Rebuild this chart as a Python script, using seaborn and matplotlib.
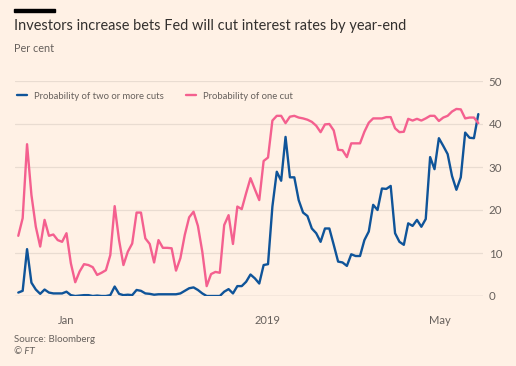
import numpy as np
import pandas as pd
import matplotlib
matplotlib.use("Agg")
import matplotlib.pyplot as plt
import seaborn as sns

# weekday index from 1 Jan 2019, values in per cent
two_or_more = [0.8, 1.2, 10.9, 3.1, 1.5, 0.5, 1.5, 0.8, 0.6, 0.6, 0.6, 1.0, 0.2, 0.0, 0.1, 0.2, 0.2, 0.0, 0.1, 0.0, 0.0, 0.2,
               2.2, 0.5, 0.2, 0.3, 0.2, 1.4, 1.2, 0.6, 0.5, 0.3, 0.4, 0.4, 0.4, 0.4, 0.4, 0.6, 1.2, 1.8, 2.0, 1.4, 0.6,
               0.0, 0.0, 0.0, 0.0, 1.0, 1.6, 0.6, 2.3, 2.3, 3.3, 5.0, 4.1, 2.9, 7.2, 7.4, 20.8, 28.9, 26.8, 37.0, 27.6, 27.6, 22.3,
               19.4, 18.6, 15.7, 14.6, 12.6, 15.7, 15.7, 11.9, 8.0, 7.8, 7.0, 9.7, 9.3, 9.3, 13.0, 15.0, 21.2, 20.0, 25.0, 24.9, 25.6, 14.6,
               12.6, 11.9, 16.9, 16.3, 17.7, 16.1, 17.9, 32.3, 29.5, 36.7, 34.9, 33.0, 27.9, 24.7, 27.6, 38.0, 36.8, 36.7, 42.3]
one_cut = [14.0, 18.1, 35.3, 23.5, 16.1, 11.5, 17.7, 14.0, 14.3, 13.0, 12.6, 14.6, 7.6, 3.2, 5.7, 7.4, 7.2, 6.7, 4.9, 5.4, 6.0, 9.5,
           20.9, 13.0, 7.2, 10.3, 12.2, 19.4, 19.4, 13.4, 12.1, 7.8, 13.0, 11.2, 11.2, 11.1, 5.9, 8.8, 14.2, 18.3, 19.6, 16.3, 10.3,
           2.3, 5.1, 5.6, 5.4, 16.5, 18.8, 12.1, 20.8, 20.2, 23.9, 27.4, 24.8, 22.3, 31.4, 32.2, 40.8, 41.9, 41.9, 40.2, 41.7, 41.9, 41.5,
           41.3, 41.0, 40.5, 39.6, 38.1, 39.9, 40.0, 38.5, 34.0, 33.9, 32.3, 35.5, 35.5, 35.5, 38.2, 40.3, 41.3, 41.3, 41.3, 41.6, 41.6, 39.0,
           38.1, 38.2, 41.2, 40.8, 41.2, 40.8, 41.3, 41.9, 41.9, 40.7, 41.5, 41.9, 42.9, 43.5, 43.4, 41.3, 41.5, 41.5, 40.2]
series_names = ["Probability of two or more cuts", "Probability of one cut"]
month_ticks = [0, 23, 43, 64, 86]        # first weekday of Jan..May
month_labels = ["Jan", "2019", "May"]
month_label_pos = [11, 57, 96.3]
y_ticks = [0, 10, 20, 30, 40, 50]

days = np.arange(len(one_cut))
df = pd.concat([
    pd.DataFrame({"day": days, "value": two_or_more, "series": series_names[0]}),
    pd.DataFrame({"day": days, "value": one_cut, "series": series_names[1]}),
])

bg = "#FFF1E5"
grid_c = "#E9DCD1"
txt_c = "#66605C"

sns.set_theme(style="white")
plt.rcParams["font.family"] = ["Lato", "DejaVu Sans"]

fig = plt.figure(figsize=(5.16, 3.66), dpi=100, facecolor=bg)
ax = fig.add_axes([15/516, 1 - 296/366, 468/516, 215/366])
ax.set_facecolor(bg)

sns.lineplot(data=df, x="day", y="value", hue="series",
             palette=["#0F5499", "#F4608F"], linewidth=1.7, ax=ax)

ax.set_xlim(-0.75, 106.07)
ax.set_ylim(0, 50)
ax.set_yticks(y_ticks)
ax.yaxis.tick_right()
ax.tick_params(axis="y", length=0, pad=4, labelsize=8.3, labelcolor=txt_c)
for v in y_ticks[1:]:
    ax.axhline(v, color=grid_c, lw=0.9, zorder=0)
ax.axhline(0, color="#CEC3BA", lw=1.0, zorder=1)

ax.set_xticks(month_ticks)
ax.set_xticklabels([])
ax.tick_params(axis="x", length=6, width=0.9, color="#CEC3BA", direction="out")
for lab, pos in zip(month_labels, month_label_pos):
    ax.text(pos, -5.6, lab, ha="center", va="center", fontsize=8, color=txt_c)

for s in ax.spines.values():
    s.set_visible(False)
ax.set_xlabel("")
ax.set_ylabel("")

handles, labels = ax.get_legend_handles_labels()
ax.legend(handles, labels, loc="upper left", bbox_to_anchor=(-0.005, 0.972), ncol=2,
          frameon=False, fontsize=6.8, handlelength=1.05, handletextpad=0.75,
          columnspacing=2.3, borderpad=0, labelcolor=txt_c)

fig.patches.append(plt.Rectangle((14/516, 1 - 12/366), 41/516, 3/366,
                                 transform=fig.transFigure, color="#000000"))
fig.text(14/516, 1 - 26/366, "Investors increase bets Fed will cut interest rates by year-end",
         fontsize=10.45, color="#33302E", va="center")
fig.text(14/516, 1 - 48/366, "Per cent", fontsize=7.8, color=txt_c, va="center")
fig.text(14/516, 1 - 339/366, "Source: Bloomberg", fontsize=7, color=txt_c, va="center")
fig.text(14/516, 1 - 352/366, "© FT", fontsize=7, color=txt_c, va="center", style="italic")

fig.savefig("out.png", dpi=100, facecolor=bg)
